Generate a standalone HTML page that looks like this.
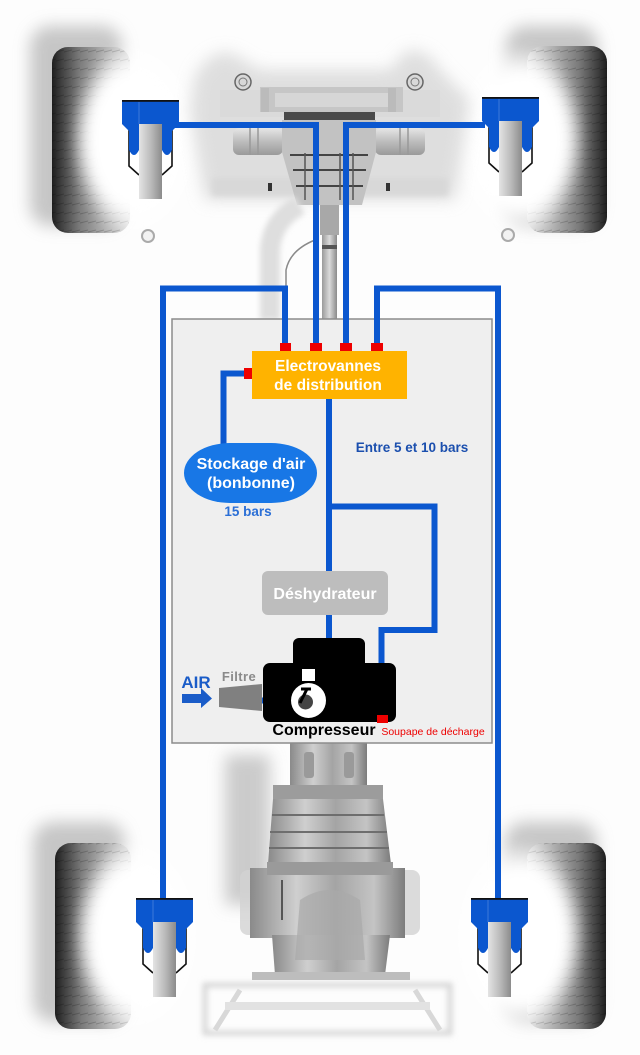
<!DOCTYPE html>
<html><head><meta charset="utf-8">
<style>
html,body{margin:0;padding:0;background:#fdfdfd;}
svg{display:block;}
text{font-family:"Liberation Sans",Arial,sans-serif;}
</style></head>
<body>
<svg width="640" height="1055" viewBox="0 0 640 1055" xmlns="http://www.w3.org/2000/svg">
<defs>
  <filter id="b8" x="-50%" y="-50%" width="200%" height="200%"><feGaussianBlur stdDeviation="8"/></filter>
  <filter id="b5" x="-50%" y="-50%" width="200%" height="200%"><feGaussianBlur stdDeviation="6"/></filter>
  <filter id="b3" x="-50%" y="-50%" width="200%" height="200%"><feGaussianBlur stdDeviation="3"/></filter>
  <linearGradient id="tireL" x1="0" y1="0" x2="1" y2="0">
    <stop offset="0" stop-color="#1e1e1e"/><stop offset="0.1" stop-color="#3a3a3a"/>
    <stop offset="0.35" stop-color="#7a7a7a"/><stop offset="0.7" stop-color="#b4b4b4"/><stop offset="1" stop-color="#e0e0e0"/>
  </linearGradient>
  <linearGradient id="tireR" x1="1" y1="0" x2="0" y2="0">
    <stop offset="0" stop-color="#1e1e1e"/><stop offset="0.1" stop-color="#3a3a3a"/>
    <stop offset="0.35" stop-color="#7a7a7a"/><stop offset="0.7" stop-color="#b4b4b4"/><stop offset="1" stop-color="#e0e0e0"/>
  </linearGradient>
  <linearGradient id="rod" x1="0" y1="0" x2="1" y2="0">
    <stop offset="0" stop-color="#e4e4e4"/><stop offset="0.5" stop-color="#bcbcbc"/><stop offset="1" stop-color="#8c8c8c"/>
  </linearGradient>
  <linearGradient id="metal" x1="0" y1="0" x2="1" y2="0">
    <stop offset="0" stop-color="#8a8a8a"/><stop offset="0.3" stop-color="#cfcfcf"/>
    <stop offset="0.55" stop-color="#a4a4a4"/><stop offset="0.8" stop-color="#c4c4c4"/><stop offset="1" stop-color="#7c7c7c"/>
  </linearGradient>
  <linearGradient id="shaft" x1="0" y1="0" x2="1" y2="0">
    <stop offset="0" stop-color="#9a9a9a"/><stop offset="0.5" stop-color="#dadada"/><stop offset="1" stop-color="#8a8a8a"/>
  </linearGradient>
  <linearGradient id="axle" x1="0" y1="0" x2="0" y2="1">
    <stop offset="0" stop-color="#e6e6e6"/><stop offset="0.5" stop-color="#bdbdbd"/><stop offset="1" stop-color="#9a9a9a"/>
  </linearGradient>
  <radialGradient id="glow">
    <stop offset="0" stop-color="#fff"/><stop offset="0.7" stop-color="#fff"/><stop offset="1" stop-color="#fff" stop-opacity="0"/>
  </radialGradient>
  <pattern id="tread" width="8" height="9" patternUnits="userSpaceOnUse">
    <path d="M0,7 L8,5" stroke="#000" stroke-opacity="0.18" stroke-width="1"/>
  </pattern>

  <g id="shock">
    <path d="M7,30 V66 L17,75" stroke="#111" stroke-width="1.6" fill="none"/>
    <path d="M50,30 V66 L40,75" stroke="#111" stroke-width="1.6" fill="none"/>
    <path d="M0,0 H57 V24 L50,31 V50 Q45,60 40,50 V24 H17 V50 Q12,60 7,50 V31 L0,24 Z" fill="#0b57cf"/>
    <rect x="0" y="0" width="57" height="1.8" fill="#111"/>
    <line x1="17" y1="2" x2="17" y2="24" stroke="#3c78d8" stroke-width="1"/>
    <rect x="17" y="24" width="23" height="75" fill="url(#rod)"/>
  </g>
</defs>

<rect x="0" y="0" width="640" height="1055" fill="#fdfdfd"/>

<!-- ===== Wheels ===== -->
<rect x="30" y="26" width="92" height="200" rx="20" fill="#9a9a9a" opacity="0.55" filter="url(#b8)"/>
<rect x="52" y="47" width="78" height="186" rx="16" fill="url(#tireL)"/>
<rect x="52" y="47" width="78" height="186" rx="16" fill="url(#tread)"/>
<ellipse cx="134" cy="140" rx="64" ry="96" fill="url(#glow)" filter="url(#b5)"/>

<rect x="506" y="26" width="92" height="200" rx="20" fill="#9a9a9a" opacity="0.55" filter="url(#b8)"/>
<rect x="527" y="46" width="80" height="187" rx="16" fill="url(#tireR)"/>
<rect x="527" y="46" width="80" height="187" rx="16" fill="url(#tread)"/>
<ellipse cx="520" cy="140" rx="66" ry="96" fill="url(#glow)" filter="url(#b5)"/>

<rect x="33" y="822" width="92" height="200" rx="20" fill="#9a9a9a" opacity="0.55" filter="url(#b8)"/>
<rect x="55" y="843" width="76" height="186" rx="16" fill="url(#tireL)"/>
<rect x="55" y="843" width="76" height="186" rx="16" fill="url(#tread)"/>
<ellipse cx="136" cy="936" rx="64" ry="96" fill="url(#glow)" filter="url(#b5)"/>

<rect x="505" y="822" width="92" height="200" rx="20" fill="#9a9a9a" opacity="0.55" filter="url(#b8)"/>
<rect x="527" y="843" width="79" height="186" rx="16" fill="url(#tireR)"/>
<rect x="527" y="843" width="79" height="186" rx="16" fill="url(#tread)"/>
<ellipse cx="520" cy="936" rx="66" ry="96" fill="url(#glow)" filter="url(#b5)"/>

<circle cx="148" cy="236" r="6" fill="#f2f2f2" stroke="#aaa" stroke-width="2"/>
<circle cx="508" cy="235" r="6" fill="#f2f2f2" stroke="#aaa" stroke-width="2"/>

<!-- ===== Front subframe / differential ===== -->
<path d="M195,75 Q215,45 235,55 L260,70 H390 L405,52 Q425,45 440,70 L470,100 L455,200 H205 L190,110 Z" fill="#d4d4d4" opacity="0.75" filter="url(#b8)"/>
<rect x="220" y="90" width="220" height="27" fill="#dadada"/>
<rect x="260" y="87" width="143" height="25" fill="#c6c6c6"/>
<rect x="275" y="93" width="115" height="14" fill="#d6d6d6"/>
<rect x="261" y="88" width="8" height="24" fill="#bbb"/>
<rect x="388" y="88" width="8" height="24" fill="#bbb"/>
<circle cx="243" cy="82" r="8" fill="#d8d8d8" stroke="#666" stroke-width="1.5"/>
<circle cx="243" cy="82" r="4" fill="none" stroke="#777" stroke-width="1"/>
<circle cx="415" cy="82" r="8" fill="#d8d8d8" stroke="#666" stroke-width="1.5"/>
<circle cx="415" cy="82" r="4" fill="none" stroke="#777" stroke-width="1"/>
<rect x="212" y="178" width="88" height="18" fill="#d8d8d8" filter="url(#b3)"/>
<rect x="360" y="178" width="88" height="18" fill="#d8d8d8" filter="url(#b3)"/>
<rect x="268" y="183" width="4" height="8" fill="#333"/>
<rect x="386" y="183" width="4" height="8" fill="#333"/>
<rect x="233" y="128" width="50" height="27" rx="6" fill="url(#axle)"/>
<rect x="375" y="128" width="50" height="27" rx="6" fill="url(#axle)"/>
<line x1="250" y1="128" x2="250" y2="155" stroke="#999" stroke-width="1.5"/>
<line x1="258" y1="128" x2="258" y2="155" stroke="#999" stroke-width="1.5"/>
<line x1="400" y1="128" x2="400" y2="155" stroke="#999" stroke-width="1.5"/>
<line x1="408" y1="128" x2="408" y2="155" stroke="#999" stroke-width="1.5"/>
<rect x="284" y="112" width="91" height="8" fill="#4a4a4a"/>
<path d="M282,120 H376 V152 L362,205 H297 L282,152 Z" fill="#c2c2c2"/>
<path d="M290,155 H368 M293,170 H366 M296,186 H363" stroke="#444" stroke-width="2"/>
<path d="M305,153 V200 M318,153 V200 M340,153 V200 M353,153 V200" stroke="#555" stroke-width="1.5"/>
<path d="M300,205 Q272,220 270,250 V320" stroke="#dedede" stroke-width="20" fill="none" filter="url(#b3)"/>
<path d="M315,240 Q290,250 286,270 V320" stroke="#8a8a8a" stroke-width="1.5" fill="none"/>
<rect x="320" y="205" width="19" height="30" fill="#a8a8a8"/>
<rect x="322" y="235" width="15" height="85" fill="url(#shaft)"/>
<rect x="322" y="245" width="15" height="4" fill="#555"/>

<!-- ===== Transmission ===== -->
<rect x="225" y="755" width="45" height="150" fill="#aaa" opacity="0.6" filter="url(#b8)"/>
<rect x="205" y="985" width="245" height="48" fill="none" stroke="#d6d6d6" stroke-width="5" filter="url(#b3)"/>
<path d="M215,1030 L240,990 M440,1030 L415,990" stroke="#d8d8d8" stroke-width="5"/>
<rect x="225" y="1002" width="205" height="8" fill="#e2e2e2"/>
<rect x="240" y="870" width="180" height="65" rx="8" fill="#d2d2d2" opacity="0.8"/>
<rect x="250" y="868" width="155" height="70" fill="url(#metal)"/>
<path d="M272,935 H390 L385,975 H275 Z" fill="url(#metal)"/>
<rect x="252" y="972" width="158" height="8" fill="#bdbdbd"/>
<path d="M290,743 H367 V785 H290 Z" fill="url(#metal)"/>
<rect x="304" y="752" width="10" height="26" rx="3" fill="#9a9a9a"/>
<rect x="344" y="752" width="10" height="26" rx="3" fill="#9a9a9a"/>
<rect x="273" y="785" width="110" height="14" fill="#9c9c9c"/>
<path d="M273,799 H383 L391,864 H268 Z" fill="url(#metal)"/>
<path d="M272,815 H384 M270,832 H387 M269,848 H389" stroke="#6e6e6e" stroke-width="2"/>
<rect x="267" y="862" width="126" height="13" fill="#9a9a9a"/>
<path d="M282,880 V920" stroke="#555" stroke-width="2"/>
<path d="M300,900 Q330,880 360,900 L365,960 H295 Z" fill="#a9a9a9" opacity="0.7"/>

<!-- ===== Grey panel ===== -->
<rect x="172" y="319" width="320" height="424" fill="#efefef" stroke="#8c8c8c" stroke-width="1.5"/>

<!-- ===== Blue lines ===== -->
<g stroke="#0b57cf" stroke-width="6" fill="none" stroke-linejoin="miter" stroke-linecap="square">
  <polyline points="178,125 316,125 316,343"/>
  <polyline points="346,343 346,125 482,125"/>
  <polyline points="285,343 285,288.5 163,288.5 163,898"/>
  <polyline points="377,343 377,288.5 498,288.5 498,898"/>
  <polyline points="244,373.5 223.5,373.5 223.5,444"/>
  <polyline points="329,399 329,571"/>
  <polyline points="329,506.5 434.5,506.5 434.5,630 381.5,630 381.5,715"/>
  <polyline points="329,615 329,674.5 317,674.5"/>
  <line x1="262" y1="700.5" x2="291" y2="700.5" stroke-linecap="butt"/>
</g>

<!-- ===== Shocks ===== -->
<use href="#shock" x="122" y="100"/>
<use href="#shock" x="482" y="97"/>
<use href="#shock" x="136" y="898"/>
<use href="#shock" x="471" y="898"/>

<!-- ===== Electrovannes ===== -->
<rect x="252" y="351" width="155" height="48" fill="#ffb300"/>
<rect x="280" y="343" width="11" height="8" fill="#ee0000"/>
<rect x="310" y="343" width="12" height="8" fill="#ee0000"/>
<rect x="340" y="343" width="12" height="8" fill="#ee0000"/>
<rect x="371" y="343" width="12" height="8" fill="#ee0000"/>
<rect x="244" y="368" width="8" height="11" fill="#ee0000"/>
<text x="328" y="371" font-size="15.5" font-weight="bold" fill="#fff" text-anchor="middle">Electrovannes</text>
<text x="328" y="390" font-size="15.5" font-weight="bold" fill="#fff" text-anchor="middle">de distribution</text>

<!-- ===== Stockage ===== -->
<rect x="184" y="443" width="133" height="60" rx="46" ry="30" fill="#1877e6"/>
<text x="251" y="469" font-size="16" font-weight="bold" fill="#fff" text-anchor="middle">Stockage d'air</text>
<text x="251" y="488" font-size="16" font-weight="bold" fill="#fff" text-anchor="middle">(bonbonne)</text>
<text x="248" y="516" font-size="13.5" font-weight="bold" fill="#2b6fd6" text-anchor="middle">15 bars</text>

<text x="412" y="452" font-size="13.5" font-weight="bold" fill="#1b4fae" text-anchor="middle">Entre 5 et 10 bars</text>

<!-- ===== Déshydrateur ===== -->
<rect x="262" y="571" width="126" height="44" rx="6" fill="#bdbdbd"/>
<text x="325" y="599" font-size="16" font-weight="bold" fill="#fff" text-anchor="middle">Déshydrateur</text>

<!-- ===== Compresseur ===== -->
<rect x="293" y="638" width="72" height="40" rx="6" fill="#000"/>
<rect x="263" y="663" width="133" height="59" rx="7" fill="#000"/>
<rect x="302" y="669" width="13" height="12" fill="#fff"/>
<circle cx="308.5" cy="700.5" r="17.5" fill="#fff"/>
<circle cx="305.5" cy="702" r="7.5" fill="#444"/>
<path d="M301,689 H311 M307,689 L300,703" stroke="#000" stroke-width="3" fill="none"/>
<rect x="377" y="715" width="11" height="8" fill="#ee0000"/>

<path d="M219,688 L262,684 V711 L219,707 Z" fill="#808080"/>
<text x="239" y="681" font-size="13" font-weight="bold" fill="#8a8a8a" text-anchor="middle" letter-spacing="0.4">Filtre</text>
<text x="196" y="688" font-size="17" font-weight="bold" fill="#1a5cc8" text-anchor="middle">AIR</text>
<path d="M182,694 H201 V688 L212,698.5 L201,708 V703 H182 Z" fill="#1a5cc8"/>

<text x="324" y="735" font-size="16" font-weight="bold" fill="#000" text-anchor="middle">Compresseur</text>
<text x="433" y="735" font-size="10.5" fill="#ee0000" text-anchor="middle">Soupape de décharge</text>
</svg>
</body></html>
